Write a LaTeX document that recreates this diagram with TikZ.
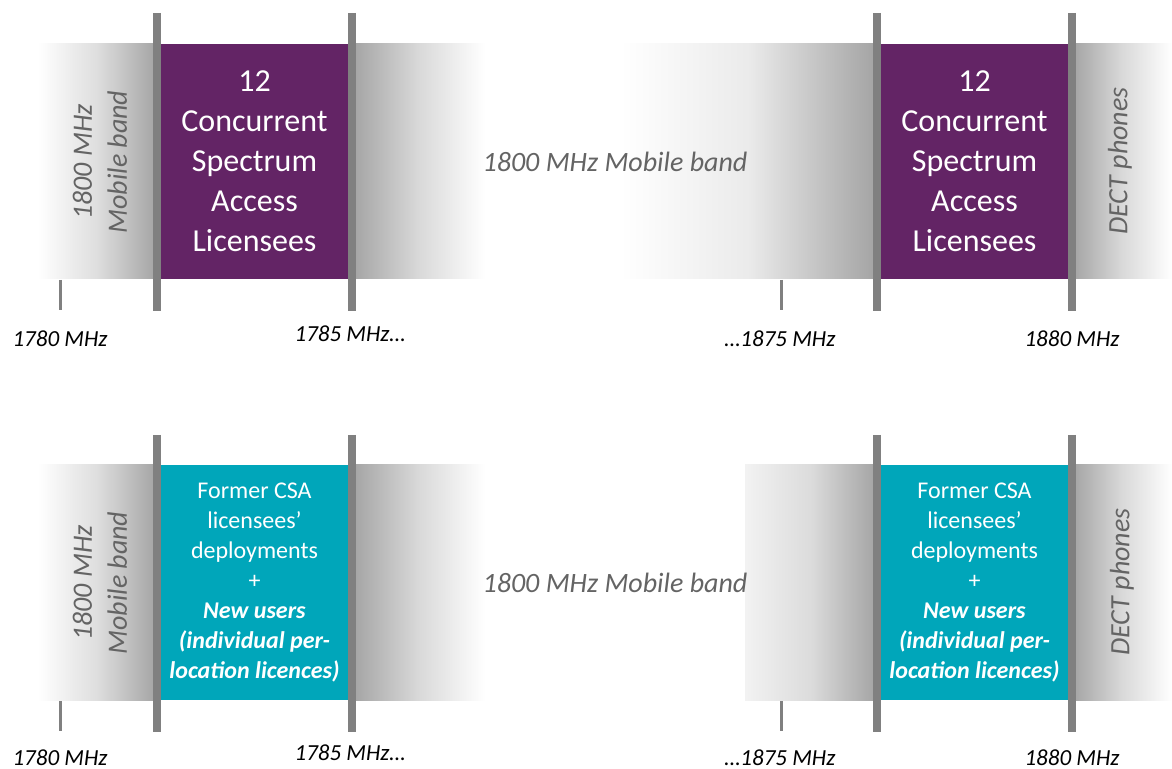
\documentclass[tikz,border=0pt]{standalone}
\usepackage{fontspec}
\setmainfont{Carlito}
\definecolor{csapurple}{RGB}{99,36,101}
\definecolor{csateal}{RGB}{0,166,186}
\definecolor{bargray}{RGB}{128,128,128}
\definecolor{bandgray}{RGB}{163,163,163}
\definecolor{lblgray}{RGB}{100,100,100}
\newcommand{\newusr}[1]{\textbf{\textit{#1}}}

\begin{document}
\begin{tikzpicture}[
	x=0.5pt, y=-0.5pt,
	licbox/.style={
		minimum width=97.5pt, minimum height=117.5pt,
		inner sep=0pt, text=white, align=center
	},
	bar/.style={draw=bargray, line width=4pt},
	tick/.style={draw=bargray, line width=1.5pt},
	freq/.style={font=\fontsize{11.5}{14}\selectfont\itshape},
	bandlbl/.style={font=\fontsize{14}{17.5}\selectfont\itshape, text=lblgray, align=center},
	]
	\useasboundingbox (0,0) rectangle (1172,769);
	
	% top row: concurrent spectrum access today
	\shade[left color=white, right color=bandgray, middle color=black!13] (38,44) rectangle (157,279);
	\shade[left color=bandgray, right color=white, middle color=black!15] (352,44) rectangle (485,279);
	\shade[left color=white, right color=bandgray, middle color=black!8] (620,44) rectangle (877,279);
	\shade[left color=bandgray, right color=white, middle color=black!15] (1072,44) rectangle (1172,279);
	
	\node[licbox, fill=csapurple, font=\fontsize{16}{20}\selectfont] (csaL) at (254.5,161.5)
	{12\\Concurrent\\Spectrum\\Access\\Licensees};
	\node[licbox, fill=csapurple, font=\fontsize{16}{20}\selectfont] (csaR) at (974.5,161.5)
	{12\\Concurrent\\Spectrum\\Access\\Licensees};
	
	\draw[bar] (157,13) -- (157,311);
	\draw[bar] (352,13) -- (352,311);
	\draw[bar] (877,13) -- (877,311);
	\draw[bar] (1072,13) -- (1072,311);
	\draw[tick] (60,280) -- (60,310);
	\draw[tick] (781,280) -- (781,310);
	
	\node[bandlbl, rotate=90] (mobT) at (100,162) {1800 MHz\\Mobile band};
	\node[bandlbl] (midT) at (615,162) {1800 MHz Mobile band};
	\node[bandlbl, rotate=90] (dectT) at (1120,161) {DECT phones};
	
	\node[freq] (f1780T) at (60,339) {1780 MHz};
	\node[freq] (f1785T) at (350,334) {1785 MHz\dots};
	\node[freq] (f1875T) at (780,339) {\dots1875 MHz};
	\node[freq] (f1880T) at (1072,339) {1880 MHz};
	
	% bottom row: after the change
	\shade[left color=white, right color=bandgray, middle color=black!13] (38,465) rectangle (157,700);
	\shade[left color=bandgray, right color=white, middle color=black!15] (352,465) rectangle (485,700);
	\shade[left color=black!5, right color=bandgray, middle color=black!14] (745,465) rectangle (877,700);
	\shade[left color=bandgray, right color=white, middle color=black!15] (1072,465) rectangle (1172,700);
	
	\node[licbox, fill=csateal, font=\fontsize{12}{15}\selectfont] (newL) at (254.5,582.5)
	{Former CSA\\licensees’\\deployments\\+\\\newusr{New users}\\\newusr{(individual per-}\\\newusr{location licences)}};
	\node[licbox, fill=csateal, font=\fontsize{12}{15}\selectfont] (newR) at (974.5,582.5)
	{Former CSA\\licensees’\\deployments\\+\\\newusr{New users}\\\newusr{(individual per-}\\\newusr{location licences)}};
	
	\draw[bar] (157,435) -- (157,732);
	\draw[bar] (352,435) -- (352,732);
	\draw[bar] (877,435) -- (877,732);
	\draw[bar] (1072,435) -- (1072,732);
	\draw[tick] (60,701) -- (60,731);
	\draw[tick] (781,701) -- (781,731);
	
	\node[bandlbl, rotate=90] (mobB) at (100,583) {1800 MHz\\Mobile band};
	\node[bandlbl] (midB) at (615,583) {1800 MHz Mobile band};
	\node[bandlbl, rotate=90] (dectB) at (1122,582) {DECT phones};
	
	\node[freq] (f1780B) at (60,758) {1780 MHz};
	\node[freq] (f1785B) at (350,753) {1785 MHz\dots};
	\node[freq] (f1875B) at (780,758) {\dots1875 MHz};
	\node[freq] (f1880B) at (1072,758) {1880 MHz};
	
\end{tikzpicture}
\end{document}
